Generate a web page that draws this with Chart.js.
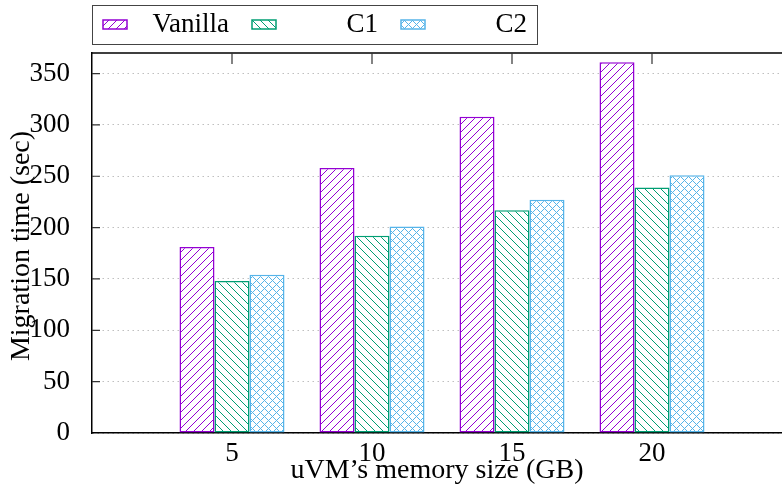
<!DOCTYPE html>
<html><head><meta charset="utf-8">
<script src="https://cdn.jsdelivr.net/npm/chart.js@4/dist/chart.umd.min.js"></script>
<style>html,body{margin:0;padding:0;overflow:hidden;background:#fff;width:782px;height:488px}canvas{display:block}</style>
</head><body>
<canvas id="c" width="800" height="488" style="width:800px;height:488px"></canvas>
<script>
const categories = ['5', '10', '15', '20'];
const vanilla = [181, 258, 308, 361];
const c1 = [148, 192, 217, 239];
const c2 = [154, 201, 227, 251];
const seriesNames = ['Vanilla', 'C1', 'C2'];
const seriesColors = ['rgb(148,0,211)', 'rgb(0,158,115)', 'rgb(86,180,233)'];
const yMax = 370, yStep = 50;
const xTitle = 'uVM\u2019s memory size (GB)';
const yTitle = 'Migration time (sec)';
const FONT = "'Liberation Serif', 'DejaVu Serif', serif";

function hatch(color, kind) {
  const s = 8;
  const cv = document.createElement('canvas');
  cv.width = s; cv.height = s;
  const g = cv.getContext('2d');
  g.fillStyle = '#ffffff';
  g.fillRect(0, 0, s, s);
  g.fillStyle = color;
  for (let y = 0; y < s; y++) {
    if (kind === 'fwd' || kind === 'cross') g.fillRect((s - y) % s, y, 1, 1);
    if (kind === 'back' || kind === 'cross') g.fillRect(y, y, 1, 1);
  }
  return g.createPattern(cv, 'repeat');
}
const kinds = ['fwd', 'back', 'cross'];
const pad = arr => [null, ...arr, null];
const labels = ['', ...categories, ''];
const values = [vanilla, c1, c2];
const patterns = values.map((v, i) => hatch(seriesColors[i], kinds[i]));

const datasets = values.map((v, i) => ({
  label: seriesNames[i],
  data: pad(v),
  backgroundColor: patterns[i],
  borderColor: seriesColors[i],
  borderWidth: 1.5,
  borderSkipped: false,
  categoryPercentage: 0.75,
  barPercentage: 1.0
}));

const deco = {
  id: 'deco',
  afterDraw(chart) {
    const ctx = chart.ctx, a = chart.chartArea;
    const xs = chart.scales.x, ys = chart.scales.y;
    ctx.save();
    ctx.strokeStyle = '#000'; ctx.lineWidth = 1.5;
    ctx.beginPath(); ctx.moveTo(a.left, a.top); ctx.lineTo(a.right, a.top); ctx.lineTo(a.right, a.bottom); ctx.stroke();
    ctx.lineWidth = 1.2; ctx.strokeStyle = '#333';
    ctx.beginPath();
    ys.ticks.forEach(t => { const y = ys.getPixelForValue(t.value); if (t.value > 0) { ctx.moveTo(a.left, y); ctx.lineTo(a.left + 8, y); ctx.moveTo(a.right, y); ctx.lineTo(a.right - 8, y); } });
    categories.forEach((c, i) => { const x = xs.getPixelForValue(i + 1); ctx.moveTo(x, a.top); ctx.lineTo(x, a.top + 11); });
    ctx.stroke();
    ctx.fillStyle = '#000';
    ctx.font = '28px ' + FONT;
    ctx.textAlign = 'center'; ctx.textBaseline = 'middle';
    ctx.fillText(xTitle, (a.left + 782) / 2, 471);
    ctx.save(); ctx.translate(22, 246); ctx.rotate(-Math.PI / 2); ctx.fillText(yTitle, 0, 0); ctx.restore();
    ctx.font = '27px ' + FONT;
    ctx.lineWidth = 1; ctx.strokeStyle = '#444';
    ctx.strokeRect(92.5, 5.5, 445, 39);
    chart.data.datasets.forEach((d, i) => {
      const sx = 103 + i * 149, sy = 20;
      ctx.fillStyle = patterns[i]; ctx.fillRect(sx, sy, 24, 9);
      ctx.strokeStyle = seriesColors[i]; ctx.lineWidth = 1.5; ctx.strokeRect(sx, sy, 24, 9);
      ctx.fillStyle = '#000'; ctx.textAlign = 'right'; ctx.textBaseline = 'middle';
      ctx.fillText(d.label, sx + 126, 25);
    });
    ctx.restore();
  }
};

new Chart(document.getElementById('c'), {
  type: 'bar',
  data: { labels, datasets },
  options: {
    responsive: false, animation: false,
    layout: { padding: { top: 53, right: 8, left: 0, bottom: 0 } },
    plugins: { legend: { display: false }, tooltip: { enabled: false } },
    scales: {
      x: {
        offset: false,
        grid: { display: false, drawTicks: false },
        border: { display: true, color: '#000', width: 1.5 },
        ticks: { color: '#000', font: { family: FONT, size: 27 }, padding: 5, maxRotation: 0, autoSkip: false },
        afterFit(s) { s.height = 55; }
      },
      y: {
        min: 0, max: yMax,
        grid: { color: 'rgba(175,175,175,0.8)', lineWidth: 1, drawTicks: false },
        border: { display: true, color: '#000', width: 1.5, dash: [1.5, 3.5] },
        ticks: { stepSize: yStep, includeBounds: false, color: '#000', font: { family: FONT, size: 27 }, padding: 22 },
        afterFit(s) { s.width = 92; }
      }
    }
  },
  plugins: [deco]
});
</script>
</body></html>
